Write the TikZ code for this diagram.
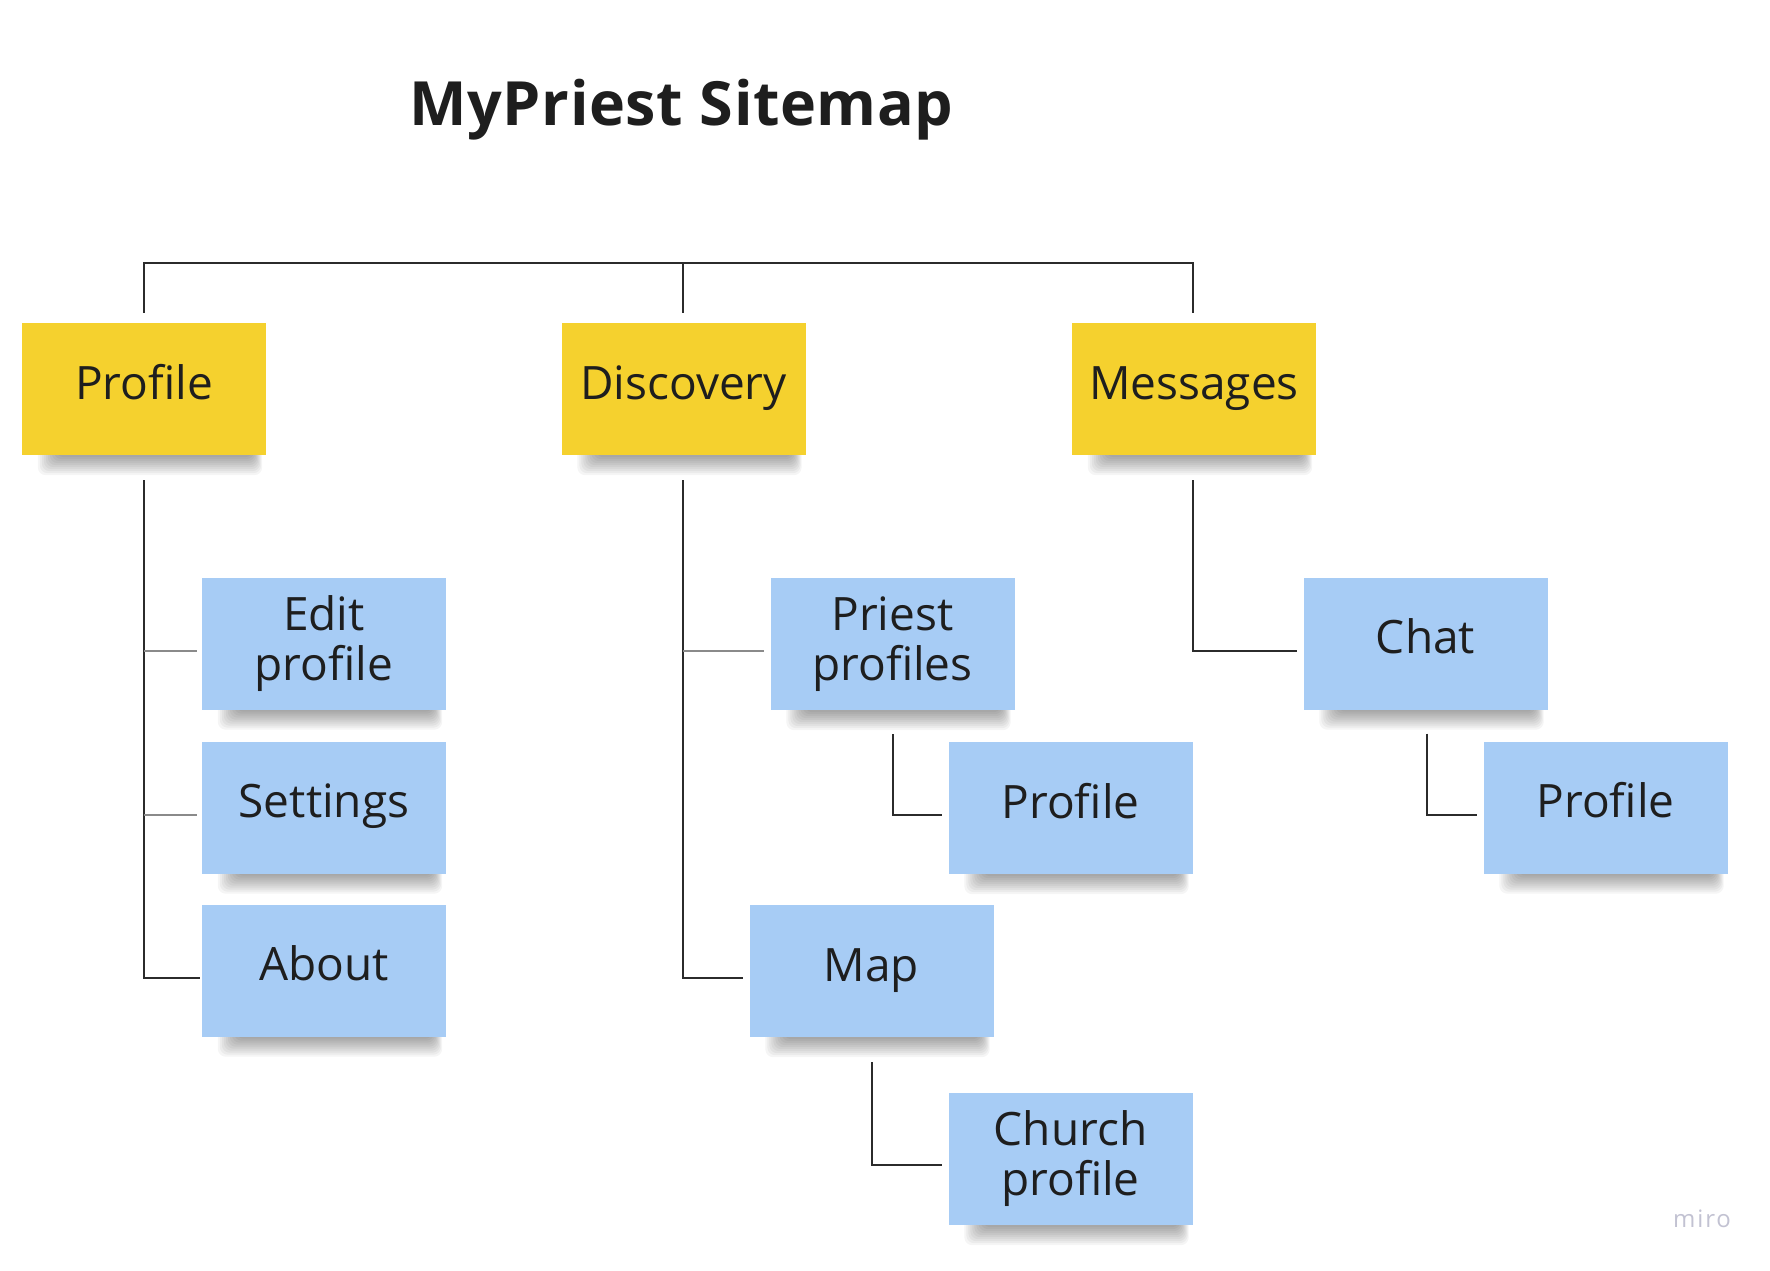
\documentclass[tikz,border=0pt]{standalone}
\usepackage{fontspec}
\setmainfont{Open Sans}
\usetikzlibrary{calc}
\definecolor{stickyyellow}{HTML}{F5D12E}
\definecolor{stickyblue}{HTML}{A7CCF5}
\definecolor{linedark}{HTML}{2B2B2B}
\definecolor{linegray}{HTML}{8A8A8A}
\definecolor{mirogray}{HTML}{C2C2D2}
\definecolor{inktext}{HTML}{1E1E1E}
\pgfdeclarelayer{bg}
\pgfsetlayers{bg,main}
\newcommand\stickyshadow[1]{%
  \foreach \k in {1,...,10}{%
    \fill[black, opacity=0.038, rounded corners=8pt]
      ($(#1.south west)+({36-2*\k},-10)$) rectangle ($(#1.south east)+({-14+\k},{2*\k})$);
  }%
}
\begin{document}
\begin{tikzpicture}[x=1pt,y=-1pt,
  sticky/.style={minimum width=244pt, minimum height=132pt, inner sep=0pt, align=center,
                 font=\fontsize{46}{50}\selectfont, text=inktext},
  yel/.style={sticky, fill=stickyyellow},
  blu/.style={sticky, fill=stickyblue},
  one/.style={text height=34pt, text depth=14pt},
  conn/.style={draw=linedark, line width=2pt},
  branch/.style={draw=linegray, line width=1.5pt},
]
\useasboundingbox (0,0) rectangle (1770,1270);

% title
\node[anchor=base, font=\fontsize{61}{66}\selectfont\bfseries\addfontfeatures{LetterSpace=1}, text=inktext] (title) at (681.5,125) {MyPriest Sitemap};

% top level
\node[yel, one] (prof) at (144,389) {Profile};
\node[yel, one] (disc) at (683.5,389) {Discovery};
\node[yel, one] (mess) at (1194,389) {Messages};

% profile children
\node[blu] (edit) at (324,643.5) {Edit\\profile};
\node[blu, one] (sett) at (324,807.5) {Settings};
\node[blu, one] (about) at (324,970.5) {About};

% discovery children
\node[blu] (priest) at (892.5,644) {Priest\\profiles};
\node[blu, one] (pprof) at (1070.5,808) {Profile};
\node[blu, one] (map) at (871.5,971) {Map};
\node[blu] (church) at (1070.5,1159) {Church\\profile};

% messages children
\node[blu, one] (chat) at (1425.5,643.5) {Chat};
\node[blu, one] (cprof) at (1605.5,807.5) {Profile};

% watermark
\node[anchor=base, font=\fontsize{24}{28}\selectfont\addfontfeatures{LetterSpace=8}, text=mirogray] (miro) at (1702,1227) {miro};

% background and shadows
\begin{pgfonlayer}{bg}
  \fill[white] (0,0) rectangle (1770,1270);
  \stickyshadow{prof}\stickyshadow{disc}\stickyshadow{mess}
  \stickyshadow{edit}\stickyshadow{sett}\stickyshadow{about}
  \stickyshadow{priest}\stickyshadow{pprof}\stickyshadow{map}\stickyshadow{church}
  \stickyshadow{chat}\stickyshadow{cprof}
\end{pgfonlayer}

% bus
\coordinate (busL) at (144,263);
\coordinate (busR) at (1193,263);
\coordinate (busC) at (683,263);
\draw[conn] ($(prof.north)+(0,-10)$) -- (busL) -- (busR) -- ($(mess.north)+(-1,-10)$);
\draw[conn] (busC) -- ($(disc.north)+(-0.5,-10)$);

% profile tree
\coordinate (profT) at ($(prof.south)+(0,25)$);
\coordinate (aboutE) at ($(about.west)+(-2,7.5)$);
\draw[conn] (profT) |- (aboutE);
\coordinate (editE) at ($(edit.west)+(-5,7.5)$);
\coordinate (settE) at ($(sett.west)+(-5,7.5)$);
\draw[branch] (profT |- editE) -- (editE);
\draw[branch] (profT |- settE) -- (settE);

% discovery tree
\coordinate (discT) at ($(disc.south)+(-0.5,25)$);
\coordinate (mapE) at ($(map.west)+(-6,7)$);
\draw[conn] (discT) |- (mapE);
\coordinate (priestE) at ($(priest.west)+(-6,7)$);
\draw[branch] (discT |- priestE) -- (priestE);
\draw[conn] ($(priest.south)+(0,24)$) |- ($(pprof.west)+(-6,7)$);
\draw[conn] ($(map.south)+(0,25)$) |- ($(church.west)+(-6,6)$);

% messages tree
\draw[conn] ($(mess.south)+(-1,25)$) |- ($(chat.west)+(-6,7.5)$);
\draw[conn] ($(chat.south)+(1.5,24)$) |- ($(cprof.west)+(-6,7)$);
\end{tikzpicture}
\end{document}
